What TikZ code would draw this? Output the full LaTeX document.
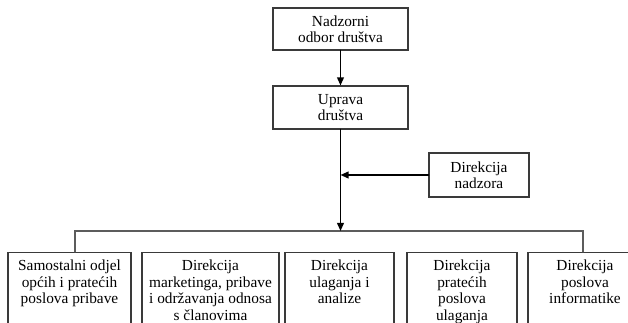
\documentclass[tikz,border=0pt]{standalone}
\usepackage{fontspec}
\setmainfont{Liberation Serif}
\usepackage{tikz}
\usetikzlibrary{arrows.meta}
\definecolor{boxline}{HTML}{3A3A3A}
\definecolor{barline}{HTML}{5C5C5C}

\begin{document}
\begin{tikzpicture}[x=0.75pt,y=-0.75pt,line cap=round,
	unit/.style={draw=boxline,line width=0.8pt,align=center,inner sep=0pt,
		font=\fontsize{11.5}{12.3}\selectfont},
	dept/.style={draw=boxline,line width=0.8pt,minimum height=67.5pt,inner sep=0pt},
	depttext/.style={anchor=north,align=center,inner sep=0pt,yshift=-6pt,
		font=\fontsize{11.5}{12.3}\selectfont},
	flow/.style={line width=1.2pt,-{Triangle[length=6pt,width=5pt]}},
	bar/.style={draw=barline,line width=0.9pt}]
	\useasboundingbox (0,0) rectangle (628,323);
	\clip (0,0) rectangle (628,323);
	%% Top
	\node[unit,minimum width=101.25pt,minimum height=31.5pt] (odbor) at (340.5,29) {Nadzorni\\odbor društva};
	\node[unit,minimum width=101.25pt,minimum height=32.25pt] (uprava) at (340.5,107.5) {Uprava\\društva};
	\node[unit,minimum width=75pt,minimum height=33pt] (nadzor) at (479,175) {Direkcija\\nadzora};
	%% Departments
	\node[dept,minimum width=92.25pt,anchor=north] (odjel) at (69.5,252) {};
	\node[dept,minimum width=102.75pt,anchor=north] (marketing) at (210.5,252) {};
	\node[dept,minimum width=81.75pt,anchor=north] (ulaganja) at (339.5,252) {};
	\node[dept,minimum width=82.5pt,anchor=north] (prateci) at (462,252) {};
	\node[dept,minimum width=85.5pt,anchor=north] (informatika) at (585,252) {};
	\node[depttext] at (odjel.north) {Samostalni odjel\\općih i pratećih\\poslova pribave};
	\node[depttext] at (marketing.north) {Direkcija\\marketinga, pribave\\i održavanja odnosa\\s članovima};
	\node[depttext] at (ulaganja.north) {Direkcija\\ulaganja i\\analize};
	\node[depttext] at (prateci.north) {Direkcija\\pratećih\\poslova\\ulaganja};
	\node[depttext] at (informatika.north) {Direkcija\\poslova\\informatike};
	%% Bar
	\coordinate (barL) at (75,231);
	\coordinate (barR) at (583,231);
	\draw[bar] (barL |- odjel.north) -- (barL) -- (barR) -- (barR |- informatika.north);
	%% Arrows
	\draw[flow] (odbor) -- (uprava);
	\draw[flow] (uprava) -- (uprava |- barL);
	\draw[flow] (nadzor) -- (uprava |- nadzor);
\end{tikzpicture}
\end{document}
